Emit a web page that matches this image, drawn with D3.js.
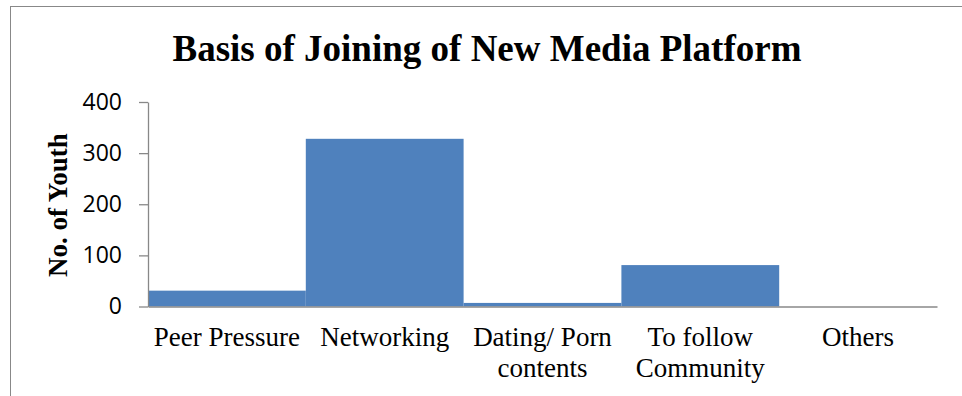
<!DOCTYPE html>
<html>
<head>
<meta charset="utf-8">
<script src="https://cdn.jsdelivr.net/npm/d3@7"></script>
<style>
  html, body { margin: 0; padding: 0; background: #fff; }
  svg { display: block; }
</style>
</head>
<body>
<svg id="chart" width="962" height="396"></svg>
<script>
// Reasons for joining a new media platform, counted by number of youth
const categories = [["Peer Pressure"], ["Networking"], ["Dating/ Porn", "contents"], ["To follow", "Community"], ["Others"]];
const values = [31, 328, 7, 81, 0];
const yTicks = [0, 100, 200, 300, 400];

const svg = d3.select("#chart");
const W = 962, H = 396;
const plot = { left: 148, right: 937, top: 102, bottom: 306.5 };
const serif = "'Liberation Serif', 'Times New Roman', serif";

// Outer frame of the chart area
svg.append("rect")
  .attr("x", 10.5).attr("y", 6.5)
  .attr("width", W).attr("height", H)
  .attr("fill", "none").attr("stroke", "#888").attr("stroke-width", 1);

// Title
svg.append("text")
  .attr("x", 487).attr("y", 61)
  .attr("text-anchor", "middle")
  .attr("font-family", serif)
  .attr("font-weight", "bold")
  .attr("font-size", 37)
  .attr("fill", "#000")
  .text("Basis of Joining of New Media Platform");

const x = d3.scaleBand()
  .domain(d3.range(categories.length))
  .range([plot.left, plot.right])
  .paddingInner(0).paddingOuter(0);

const y = d3.scaleLinear()
  .domain([0, 400])
  .range([plot.bottom, plot.top]);

// Bars
svg.append("g")
  .selectAll("rect")
  .data(values)
  .join("rect")
  .attr("x", (d, i) => x(i))
  .attr("y", d => y(d))
  .attr("width", x.bandwidth())
  .attr("height", d => y(0) - y(d))
  .attr("fill", "#4F81BD");

// Y axis
const yAxis = svg.append("g")
  .attr("transform", `translate(${plot.left},0)`)
  .call(d3.axisLeft(y).tickValues(yTicks).tickSize(9).tickPadding(17).tickSizeOuter(0));
yAxis.select(".domain").attr("stroke", "#888").attr("stroke-width", 1.3);
yAxis.selectAll(".tick line").attr("stroke", "#888").attr("stroke-width", 1.3);
yAxis.selectAll(".tick text")
  .attr("font-family", "'Open Sans', sans-serif")
  .attr("font-size", 23)
  .attr("fill", "#000");

// X axis baseline
const xAxis = svg.append("g")
  .attr("transform", `translate(0,${plot.bottom})`)
  .call(d3.axisBottom(x).tickSize(0).tickSizeOuter(0).tickFormat(""));
xAxis.select(".domain").attr("stroke", "#888").attr("stroke-width", 1.5);

// Category labels, split across lines
const labels = svg.append("g")
  .attr("font-family", serif)
  .attr("font-size", 27)
  .attr("fill", "#000")
  .attr("text-anchor", "middle");
categories.forEach((lines, i) => {
  const cx = x(i) + x.bandwidth() / 2;
  const t = labels.append("text")
    .attr("x", cx)
    .attr("y", 346);
  lines.forEach((ln, k) => {
    t.append("tspan")
      .attr("x", cx)
      .attr("dy", k === 0 ? 0 : 31)
      .text(ln);
  });
});

// Y axis title
svg.append("text")
  .attr("transform", "translate(67,205) rotate(-90)")
  .attr("text-anchor", "middle")
  .attr("font-family", serif)
  .attr("font-weight", "bold")
  .attr("font-size", 27)
  .attr("fill", "#000")
  .text("No. of Youth");
</script>
</body>
</html>
